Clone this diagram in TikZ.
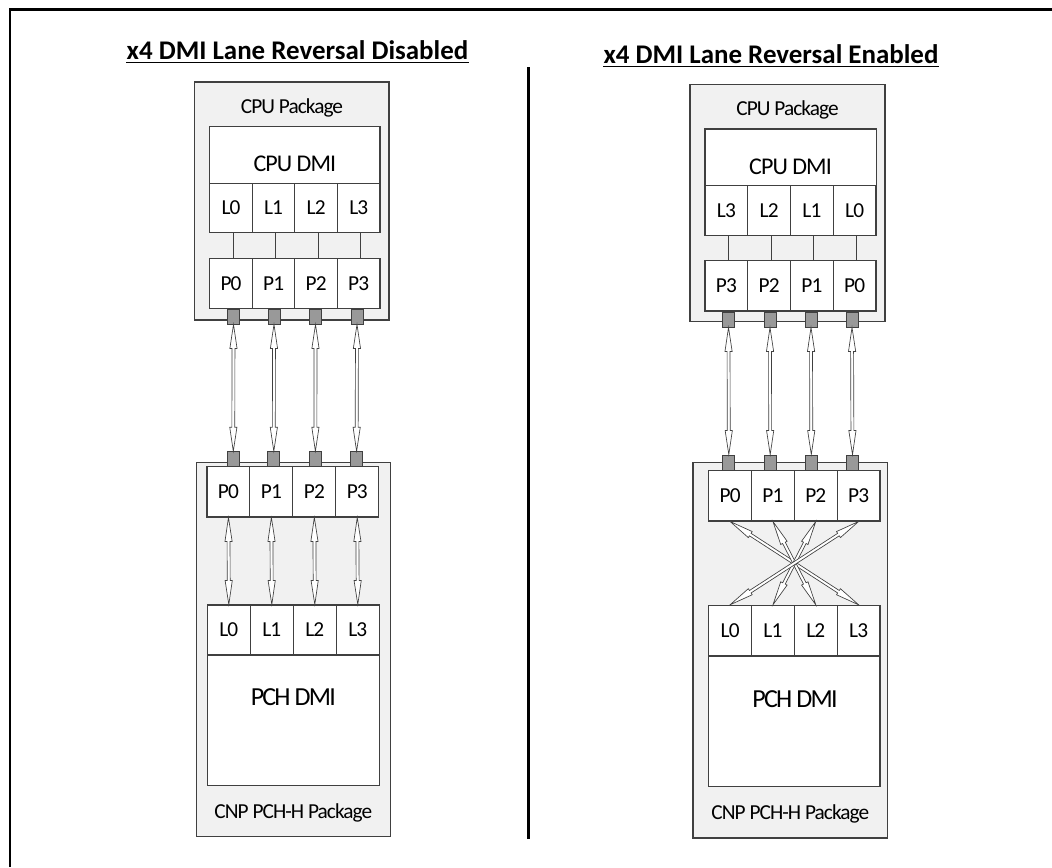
\documentclass[tikz,border=0pt]{standalone}
\usepackage{fontspec}
\setmainfont{Carlito}
\usetikzlibrary{calc}
\definecolor{edge}{HTML}{404040}
\definecolor{pkgfill}{HTML}{F1F1F1}
\definecolor{sqfill}{HTML}{999999}
\newcommand\arHL{18pt}
\newcommand\arHW{2.7pt}
\newcommand\arSW{1.1pt}
\newcommand\dlarrow[2]{%
  \draw[arr] (#1)
   -- ($(#1)!\arHL!(#2)!\arHW!90:(#2)$)
   -- ($(#1)!\arHL!(#2)!\arSW!90:(#2)$)
   -- ($(#2)!\arHL!(#1)!\arSW!-90:(#1)$)
   -- ($(#2)!\arHL!(#1)!\arHW!-90:(#1)$)
   -- (#2)
   -- ($(#2)!\arHL!(#1)!\arHW!90:(#1)$)
   -- ($(#2)!\arHL!(#1)!\arSW!90:(#1)$)
   -- ($(#1)!\arHL!(#2)!\arSW!-90:(#2)$)
   -- ($(#1)!\arHL!(#2)!\arHW!-90:(#2)$)
   -- cycle;}
\newcommand\bx[6]{\node[#6, minimum width={(#4-#2)*0.75pt}, minimum height={(#5-#3)*0.75pt}] (#1) at ({(#2+#4)/2},{(#3+#5)/2}) {};}
\tikzset{
  pkg/.style={draw=edge, fill=pkgfill, line width=0.8pt, inner sep=0pt},
  blk/.style={draw=edge, fill=white, line width=0.8pt, inner sep=0pt},
  cell/.style={draw=edge, fill=white, line width=0.8pt, inner sep=0pt, font=\fontsize{16pt}{19pt}\selectfont\addfontfeature{LetterSpace=-4}},
  sq/.style={draw=edge, fill=sqfill, line width=0.7pt, inner sep=0pt, minimum width=9pt, minimum height=11.25pt},
  arr/.style={draw=edge, fill=white, line width=0.5pt, line join=miter},
  link/.style={draw=edge, line width=0.6pt},
  pkgtxt/.style={inner sep=0pt, anchor=base, font=\fontsize{16pt}{19pt}\selectfont\addfontfeature{LetterSpace=-4.5}},
  dmitxt/.style={inner sep=0pt, anchor=base, font=\fontsize{18pt}{21pt}\selectfont\addfontfeature{LetterSpace=-4}},
  pchtxt/.style={inner sep=0pt, anchor=base, font=\fontsize{19.5pt}{22pt}\selectfont\addfontfeature{LetterSpace=-7}},
  ttl/.style={inner sep=0pt, anchor=base, font=\fontsize{20.2pt}{23pt}\selectfont\bfseries},
}
\begin{document}
\begin{tikzpicture}[x=0.75pt, y=-0.75pt]
\useasboundingbox (0,0) rectangle (1052,867);
% frame and divider
\draw[line width=1.6pt] (10,867) -- (10,9.5) -- (1052,9.5);
\draw[line width=2.2pt] (528.7,67.3) -- (528.7,839.3);
% titles
\node[ttl] (ltitle) at (297.5,59.3) {x4 DMI Lane Reversal Disabled};
\draw[line width=1.4pt] ([yshift=-2.4pt]ltitle.base west) -- ([yshift=-2.4pt]ltitle.base east);
\node[ttl] (rtitle) at (771,63.3) {x4 DMI Lane Reversal Enabled};
\draw[line width=1.4pt] ([yshift=-2.4pt]rtitle.base west) -- ([yshift=-2.4pt]rtitle.base east);

% ================= LEFT PANEL =================
\bx{lcpu}{194.7}{82}{389}{320}{pkg}
\node[pkgtxt] (lcpul) at (292,113.3) {CPU Package};
\bx{lcdmi}{209.7}{126.7}{380}{183.3}{blk}
\node[dmitxt] (lcdmil) at (294.8,171.7) {CPU DMI};
\foreach \i/\t in {0/L0,1/L1,2/L2,3/L3}{
  \node[cell, minimum width=31.93pt, minimum height=37.05pt] (lcL\i) at ({209.7+42.575*(\i+0.5)},208) {\t};}
\foreach \i/\t in {0/P0,1/P1,2/P2,3/P3}{
  \node[cell, minimum width=31.93pt, minimum height=37.5pt] (lcP\i) at ({209.7+42.575*(\i+0.5)},283.3) {\t};}
\foreach \i in {0,...,3}{
  \draw[link] ([xshift=1.5pt]lcL\i.south) -- ([xshift=1.5pt]lcP\i.north);}
\foreach \i/\xx in {0/233.5,1/274,2/315.5,3/357}{
  \node[sq] (lcs\i) at (\xx,316.5) {};}

\bx{lpch}{196.3}{462.3}{390.3}{836.7}{pkg}
\node[pkgtxt] (lpchl) at (293.3,818) {CNP PCH-H Package};
\foreach \i/\xx in {0/233.3,1/273.8,2/315.4,3/356.6}{
  \node[sq] (lps\i) at (\xx,459.2) {};}
\foreach \i/\t in {0/P0,1/P1,2/P2,3/P3}{
  \node[cell, minimum width=32.19pt, minimum height=37.7pt] (lpP\i) at ({207+42.925*(\i+0.5)},491.85) {\t};}
\foreach \i/\t in {0/L0,1/L1,2/L2,3/L3}{
  \node[cell, minimum width=32.25pt, minimum height=37.5pt] (lpL\i) at ({207.3+43*(\i+0.5)},630) {\t};}
\bx{lpdmi}{207.3}{655}{379.3}{785.7}{blk}
\node[pchtxt] (lpdmil) at (293.3,705) {PCH DMI};
\foreach \i in {0,...,3}{
  \dlarrow{lcs\i.south}{lps\i.north}}
\foreach \i in {0,...,3}{
  \dlarrow{lpP\i.south}{lpL\i.north}}

% ================= RIGHT PANEL =================
\bx{rcpu}{690}{84.3}{885}{321.7}{pkg}
\node[pkgtxt] (rcpul) at (787.5,115.3) {CPU Package};
\bx{rcdmi}{705}{129}{876.7}{185.3}{blk}
\node[dmitxt] (rcdmil) at (790.5,174.3) {CPU DMI};
\foreach \i/\t in {0/L3,1/L2,2/L1,3/L0}{
  \node[cell, minimum width=32.06pt, minimum height=37.8pt] (rcL\i) at ({705+42.75*(\i+0.5)},210.5) {\t};}
\foreach \i/\t in {0/P3,1/P2,2/P1,3/P0}{
  \node[cell, minimum width=32.06pt, minimum height=38.0pt] (rcP\i) at ({705+42.75*(\i+0.5)},285.65) {\t};}
\foreach \i in {0,...,3}{
  \draw[link] ([xshift=1.5pt]rcL\i.south) -- ([xshift=1.5pt]rcP\i.north);}
\foreach \i/\xx in {0/728.5,1/770,2/811,3/852}{
  \node[sq] (rcs\i) at (\xx,319.5) {};}

\bx{rpch}{693}{462.7}{887.7}{838}{pkg}
\node[pkgtxt] (rpchl) at (790.3,819) {CNP PCH-H Package};
\foreach \i/\xx in {0/728.8,1/770.2,2/811.3,3/852.5}{
  \node[sq] (rps\i) at (\xx,462.5) {};}
\foreach \i/\t in {0/P0,1/P1,2/P2,3/P3}{
  \node[cell, minimum width=32.1pt, minimum height=38.0pt] (rpP\i) at ({708.7+42.825*(\i+0.5)},495.65) {\t};}
\foreach \i/\t in {0/L0,1/L1,2/L2,3/L3}{
  \node[cell, minimum width=32.1pt, minimum height=37.8pt] (rpL\i) at ({708.7+42.825*(\i+0.5)},630.5) {\t};}
\bx{rpdmi}{708.7}{656}{880}{786.5}{blk}
\node[pchtxt] (rpdmil) at (795,707) {PCH DMI};
\foreach \i in {0,...,3}{
  \dlarrow{rcs\i.south}{rps\i.north}}
\dlarrow{rpP0.south}{rpL3.north}
\dlarrow{rpP1.south}{rpL2.north}
\dlarrow{rpP2.south}{rpL1.north}
\dlarrow{rpP3.south}{rpL0.north}
\end{tikzpicture}
\end{document}
